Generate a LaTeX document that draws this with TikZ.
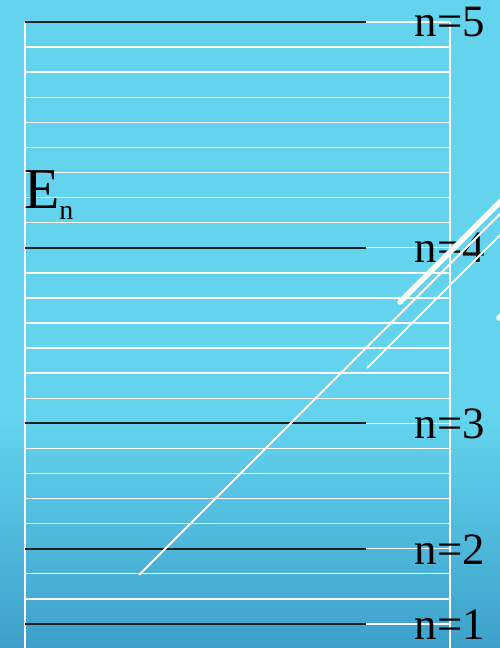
\documentclass[tikz,border=0pt]{standalone}
\usepackage{fontspec}
\setmainfont{Liberation Serif}
\definecolor{skytop}{RGB}{99,211,238}
\definecolor{skybot}{RGB}{62,160,202}

\begin{document}
\begin{tikzpicture}[x=1bp,y=-1bp,
  grid/.style={white,line width=1.4bp},
  level/.style={black!88,line width=2bp},
  ray/.style={white,line width=1.8bp},
  lab/.style={inner sep=0pt,font=\fontsize{45}{45}\selectfont}]
  \useasboundingbox (0,0) rectangle (500,648);
  \clip (0,0) rectangle (500,648);
  % background
  \fill[skytop] (0,0) rectangle (500,420);
  \shade[top color=skytop,bottom color=skybot] (0,419.5) rectangle (500,648);
  % frame and grid
  \foreach \k in {0,...,24} \draw[grid] (25,{22+25.08*\k}) -- (450,{22+25.08*\k});
  \draw[grid] (25,22) -- (25,648);
  \draw[grid] (450,22) -- (450,648);
  % energy levels
  \foreach \n/\k in {5/0,4/9,3/16,2/21,1/24} {
    \coordinate (l\n) at (25,{22+25.08*\k});
    \coordinate (r\n) at (366,{22+25.08*\k});
    \draw[level] (l\n) -- (r\n);
    \node[lab] (n\n) at (450,{22.5+25.08*\k}) {n=\n};
  }
  % axis label
  \node[inner sep=0pt,anchor=base west] (En) at (24,208)
    {\fontsize{58}{58}\selectfont E\raisebox{-11bp}{\fontsize{28}{28}\selectfont n}};
  % slanted strokes
  \coordinate (a1) at (139,575);
  \coordinate (a2) at (520,194);
  \coordinate (b1) at (367,368);
  \coordinate (b2) at (520,215);
  \coordinate (c1) at (400,302);
  \coordinate (c2) at (520,182);
  \coordinate (d1) at (499,318);
  \coordinate (d2) at (540,277);
  \draw[ray] (a1) -- (a2);
  \draw[ray] (b1) -- (b2);
  \draw[white,line width=5.5bp,line cap=round] (c1) -- (c2);
  \draw[white,line width=5.5bp,line cap=round] (d1) -- (d2);
\end{tikzpicture}
\end{document}
